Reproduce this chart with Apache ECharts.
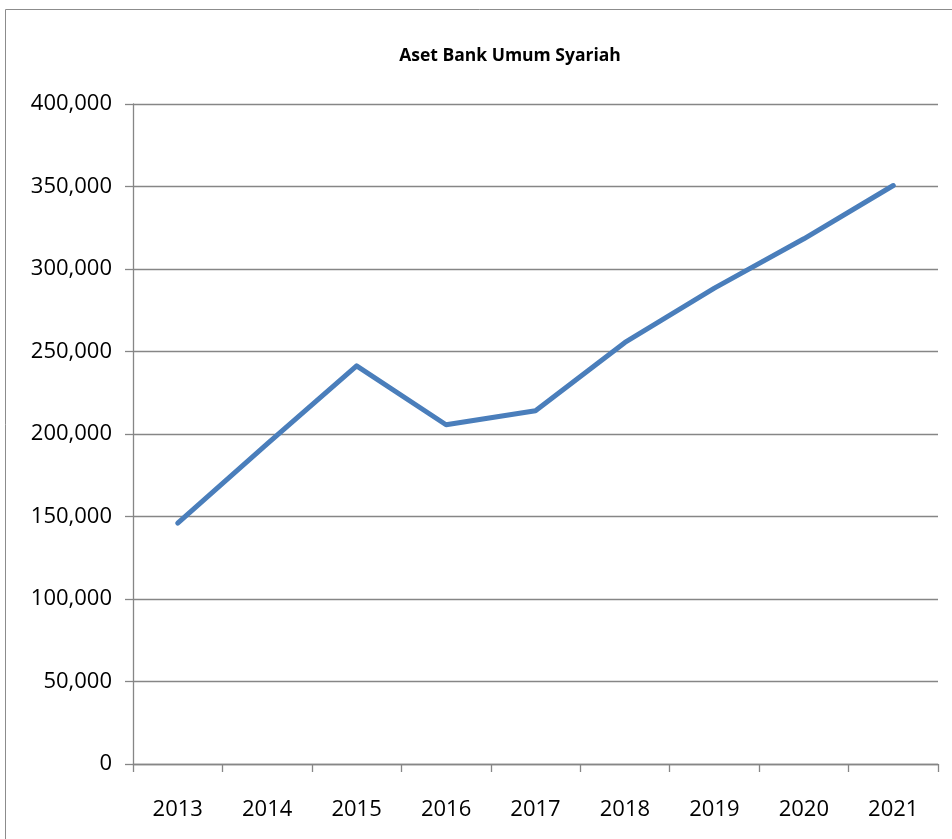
<!DOCTYPE html>
<html>
<head>
<meta charset="utf-8">
<script src="https://cdn.jsdelivr.net/npm/echarts@6/dist/echarts.min.js"></script>
<style>
html,body{margin:0;padding:0;background:#fff;}
#chart{width:952px;height:839px;}
</style>
</head>
<body>
<div id="chart"></div>
<script>
const chartTitle = 'Aset Bank Umum Syariah';
const years = ['2013','2014','2015','2016','2017','2018','2019','2020','2021'];
const assets = [146000, 194000, 241300, 205600, 214100, 255500, 288400, 318300, 350600];

const chart = echarts.init(document.getElementById('chart'), null, {renderer:'canvas'});
const FONT = '"Open Sans", sans-serif';
chart.setOption({
  backgroundColor: '#ffffff',
  animation: false,
  title: {
    text: chartTitle,
    left: 505, top: 42, textAlign: 'center',
    textStyle: {fontFamily: FONT, fontSize: 17.5, fontWeight: 'bold', color: '#000'}
  },
  graphic: [{
    type: 'rect', shape: {x: 5.5, y: 9.5, width: 1000, height: 900},
    style: {fill: 'none', stroke: '#8c8c8c', lineWidth: 1}, silent: true
  }],
  grid: {left: 133, right: 14, top: 104, bottom: 75, containLabel: false},
  xAxis: {
    type: 'category', data: years, boundaryGap: true,
    axisLine: {lineStyle: {color: '#868686', width: 1.3}},
    axisTick: {show: true, length: 8, inside: false, lineStyle: {color: '#868686', width: 1.3}},
    axisLabel: {margin: 35, fontFamily: FONT, fontSize: 22, color: '#000'}
  },
  yAxis: {
    type: 'value', min: 0, max: 400000, interval: 50000,
    axisLine: {show: true, lineStyle: {color: '#868686', width: 1.3}},
    axisTick: {show: true, length: 8, lineStyle: {color: '#868686', width: 1.3}},
    splitLine: {show: true, lineStyle: {color: '#868686', width: 1.3}},
    axisLabel: {margin: 21, fontFamily: FONT, fontSize: 22, color: '#000',
      formatter: v => v.toLocaleString('en-US')}
  },
  series: [{
    type: 'line', data: assets, symbol: 'none',
    lineStyle: {color: '#4a7ebb', width: 5, cap: 'round', join: 'round'}
  }]
});
</script>
</body>
</html>
